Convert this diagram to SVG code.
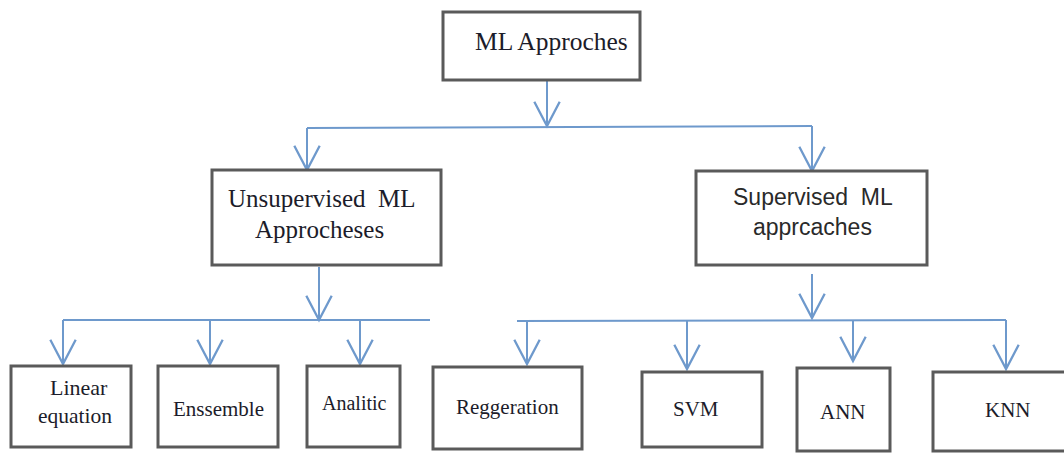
<svg xmlns="http://www.w3.org/2000/svg" width="1064" height="453" viewBox="0 0 1064 453">
<style>
.box{fill:#ffffff;stroke:#5a5a5a;stroke-width:3}
.c{fill:none;stroke:#6e99cc;stroke-width:2}
.s{font-family:"Liberation Serif","Times New Roman",serif;fill:#1c1c2a}
.ss{font-family:"Liberation Sans",Arial,sans-serif;fill:#2a2a2a;white-space:pre}
</style>
<defs>
<marker id="ah" markerUnits="userSpaceOnUse" markerWidth="30" markerHeight="30" refX="0" refY="0" viewBox="-22 -13 24 26" orient="auto" overflow="visible">
<path d="M-21,-11 L0,0 L-21,11" fill="none" stroke="#6e99cc" stroke-width="2"/>
</marker>
</defs>
<rect width="1064" height="453" fill="#ffffff"/>
<g id="connectors">
<path class="c" d="M547,80 L547,126" marker-end="url(#ah)"/>
<path class="c" d="M307,128 L812,126"/>
<path class="c" d="M307,128 L307,170" marker-end="url(#ah)"/>
<path class="c" d="M812,126 L812,171" marker-end="url(#ah)"/>
<path class="c" d="M319,267 L319,320" marker-end="url(#ah)"/>
<path class="c" d="M63,320 L430,320"/>
<path class="c" d="M63,320 L63,364" marker-end="url(#ah)"/>
<path class="c" d="M210,320 L210,364" marker-end="url(#ah)"/>
<path class="c" d="M360,320 L360,364" marker-end="url(#ah)"/>
<path class="c" d="M812,274 L812,318" marker-end="url(#ah)"/>
<path class="c" d="M517,321 L1006,320"/>
<path class="c" d="M527,321 L527,364" marker-end="url(#ah)"/>
<path class="c" d="M687,321 L687,369" marker-end="url(#ah)"/>
<path class="c" d="M853,320 L853,361" marker-end="url(#ah)"/>
<path class="c" d="M1006,320 L1006,369" marker-end="url(#ah)"/>
</g>
<g id="ml-approches">
<rect class="box" x="443" y="12" width="197" height="68"/>
<text class="s" x="475" y="50" font-size="25.5">ML Approches</text>
</g>
<g id="unsupervised">
<rect class="box" x="212" y="170" width="229" height="95"/>
<text class="s" x="228" y="207" font-size="25" style="white-space:pre">Unsupervised  ML</text>
<text class="s" x="255" y="238" font-size="25">Approcheses</text>
</g>
<g id="supervised">
<rect class="box" x="696" y="171" width="231" height="94"/>
<text class="ss" x="733" y="205" font-size="23">Supervised  ML</text>
<text class="ss" x="753" y="235" font-size="23">apprcaches</text>
</g>
<g id="linear">
<rect class="box" x="11" y="366" width="120" height="81"/>
<text class="s" x="50" y="395" font-size="22">Linear</text>
<text class="s" x="38" y="423" font-size="21.5">equation</text>
</g>
<g id="ensemble">
<rect class="box" x="158" y="366" width="120" height="81"/>
<text class="s" x="173" y="416" font-size="21">Enssemble</text>
</g>
<g id="analitic">
<rect class="box" x="307" y="366" width="93" height="81"/>
<text class="s" x="322" y="410" font-size="20">Analitic</text>
</g>
<g id="reggeration">
<rect class="box" x="433" y="367" width="149" height="82"/>
<text class="s" x="456" y="414" font-size="21">Reggeration</text>
</g>
<g id="svm">
<rect class="box" x="642" y="372" width="120" height="75"/>
<text class="s" x="673" y="416" font-size="21">SVM</text>
</g>
<g id="ann">
<rect class="box" x="797" y="368" width="93" height="83"/>
<text class="s" x="820" y="419" font-size="21">ANN</text>
</g>
<g id="knn">
<rect class="box" x="933" y="372" width="140" height="79"/>
<text class="s" x="985" y="417" font-size="21">KNN</text>
</g>
</svg>
